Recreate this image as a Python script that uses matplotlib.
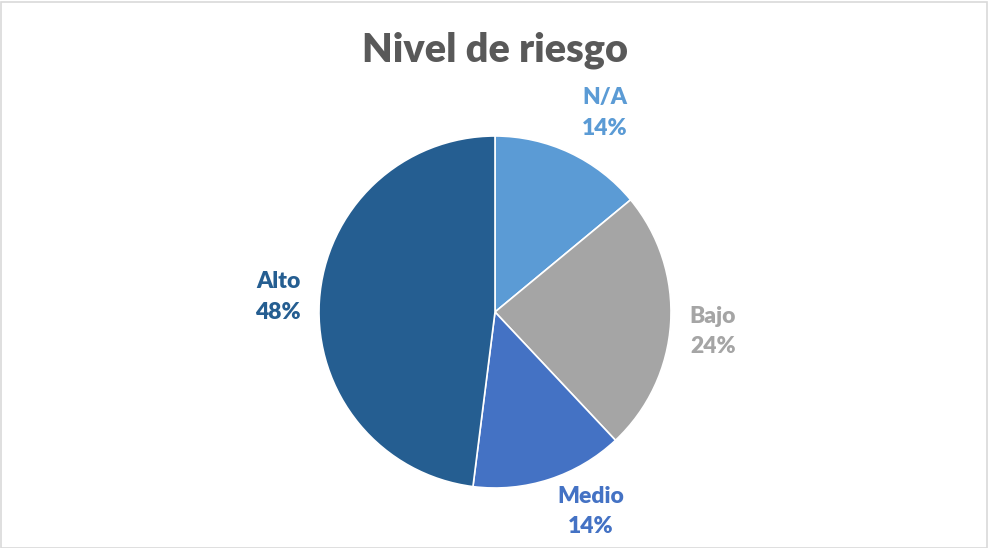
import matplotlib
matplotlib.use("Agg")
import matplotlib.pyplot as plt
from matplotlib.patches import Rectangle

# data
categories = ["N/A", "Bajo", "Medio", "Alto"]
values = [14, 24, 14, 48]
colors = ["#5B9BD5", "#A5A5A5", "#4472C4", "#255E91"]
# label anchor positions (pie-radius units), as placed in the original
label_pos = [(0.625, 1.13), (1.239, -0.11), (0.545, -1.135), (-1.233, 0.085)]

plt.rcParams['font.family'] = ['Lato', 'DejaVu Sans']

fig = plt.figure(figsize=(9.88, 5.48), dpi=100)
fig.patch.set_facecolor("white")

# pie axes: center (495, 312) px, radius 176 px
W, H = 988, 548
ax = fig.add_axes([(495 - 176) / W, (548 - 488) / H, 352 / W, 352 / H])
ax.pie(values, colors=colors, startangle=90, counterclock=False, radius=1,
       wedgeprops=dict(edgecolor="white", linewidth=1.2))
ax.set_xlim(-1, 1)
ax.set_ylim(-1, 1)
ax.set_aspect("equal")
ax.axis("off")

for cat, val, col, (x, y) in zip(categories, values, colors, label_pos):
    ax.text(x, y, f"{cat}\n{val}%", ha="center", va="center", color=col,
            fontsize=16.5, fontweight="heavy", linespacing=1.55, clip_on=False)

fig.text(495 / W, 1 - 50 / H, "Nivel de riesgo", ha="center", va="center",
         fontsize=28.5, fontweight="heavy", color="#595959")

# chart border
fig.patches.append(Rectangle((0.5 / W, 0.5 / H), 1 - 2 / W, 1 - 2 / H,
                             transform=fig.transFigure, fill=False,
                             edgecolor="#D9D9D9", linewidth=1.2))

fig.savefig("out.png", dpi=100)
